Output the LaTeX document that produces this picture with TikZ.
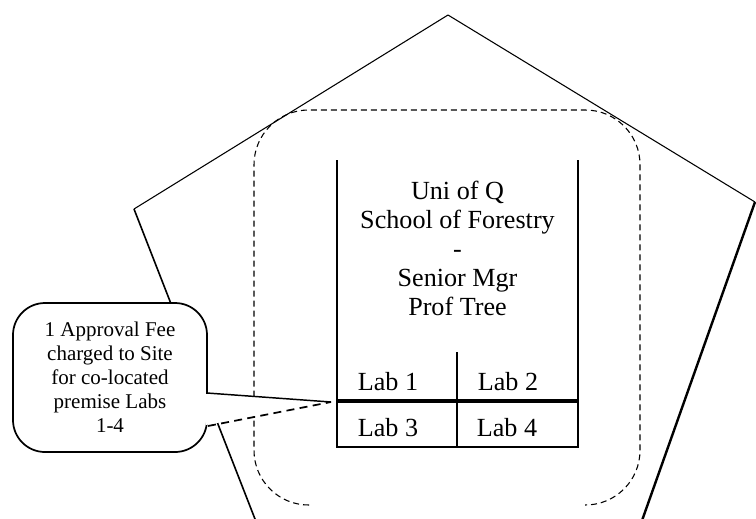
\documentclass[tikz,border=0pt]{standalone}
\usepackage{fontspec}
\setmainfont{Liberation Serif}
\usetikzlibrary{positioning,calc}

\begin{document}
\begin{tikzpicture}[
    x=0.75pt, y=-0.75pt,
    edge/.style={draw, line width=0.8pt, line join=round},
    heavy/.style={edge, line width=1.8pt},
    site/.style={draw, dash pattern=on 4.5pt off 3pt, line width=0.8pt, rounded corners=41pt},
    boxline/.style={draw, line width=1pt},
    unit/.style={align=center, font=\fontsize{19.6}{21.75}\selectfont},
    lab/.style={inner sep=0pt, font=\fontsize{19.6}{21.75}\selectfont},
    note/.style={draw, fill=white, line width=1.3pt, rounded corners=24pt, minimum width=145.5pt, minimum height=111.75pt, align=center, font=\fontsize{15.75}{18}\selectfont},
]
\useasboundingbox (0,0) rectangle (756,518);
\clip (0,0) rectangle (756,518);

% pentagon corners
\coordinate (top) at (448,15);
\coordinate (right) at (755,202);
\coordinate (left) at (134,209);
\coordinate (lowleft) at (271,560);
\coordinate (lowright) at (628,560);

\draw[edge] (left) -- (top) -- (right);
\draw[heavy] (right) -- (lowright);
\draw[edge, line width=1.2pt] (left) -- (lowleft);

% co-located site
\draw[site] (309,505) -- (254,505) -- (254,110) -- (640,110) -- (640,505) -- (585,505);

% org unit
\coordinate (nw) at (337,160);
\coordinate (ne) at (578,160);
\coordinate (sw) at (337,447);
\coordinate (se) at (578,447);
\coordinate (mid) at (457,352);
\coordinate (rowl) at (337,401);
\coordinate (rowr) at (578,401);

\draw[boxline] (nw) -- (sw) -- (se) -- (ne);
\draw[boxline] (mid) -- (mid |- sw);
\draw[boxline, line width=2.3pt] (rowl) -- (rowr);

\node[unit] (unit) at (457.5,248) {Uni of Q\\School of Forestry\\-\\Senior Mgr\\Prof Tree};

\node[lab] (lab1) at (388,382) {Lab 1};
\node[lab] (lab2) at (508,382) {Lab 2};
\node[lab] (lab3) at (388,428) {Lab 3};
\node[lab] (lab4) at (507,428) {Lab 4};

% callout
\node[note] (fee) at (110,377.5) {1 Approval Fee\\charged to Site\\for co-located\\premise Labs\\1-4};

\coordinate (tip) at (331,402);
\coordinate (wedgetop) at (207,393);
\coordinate (wedgebot) at (208,426);

\fill[white] (205.5,394) -- (tip) -- (205.5,425) -- cycle;
\draw[edge, line width=1.1pt] (wedgetop) -- (tip);
\draw[edge, line width=1.3pt, dash pattern=on 6pt off 4pt] (wedgebot) -- (tip);

\end{tikzpicture}
\end{document}
